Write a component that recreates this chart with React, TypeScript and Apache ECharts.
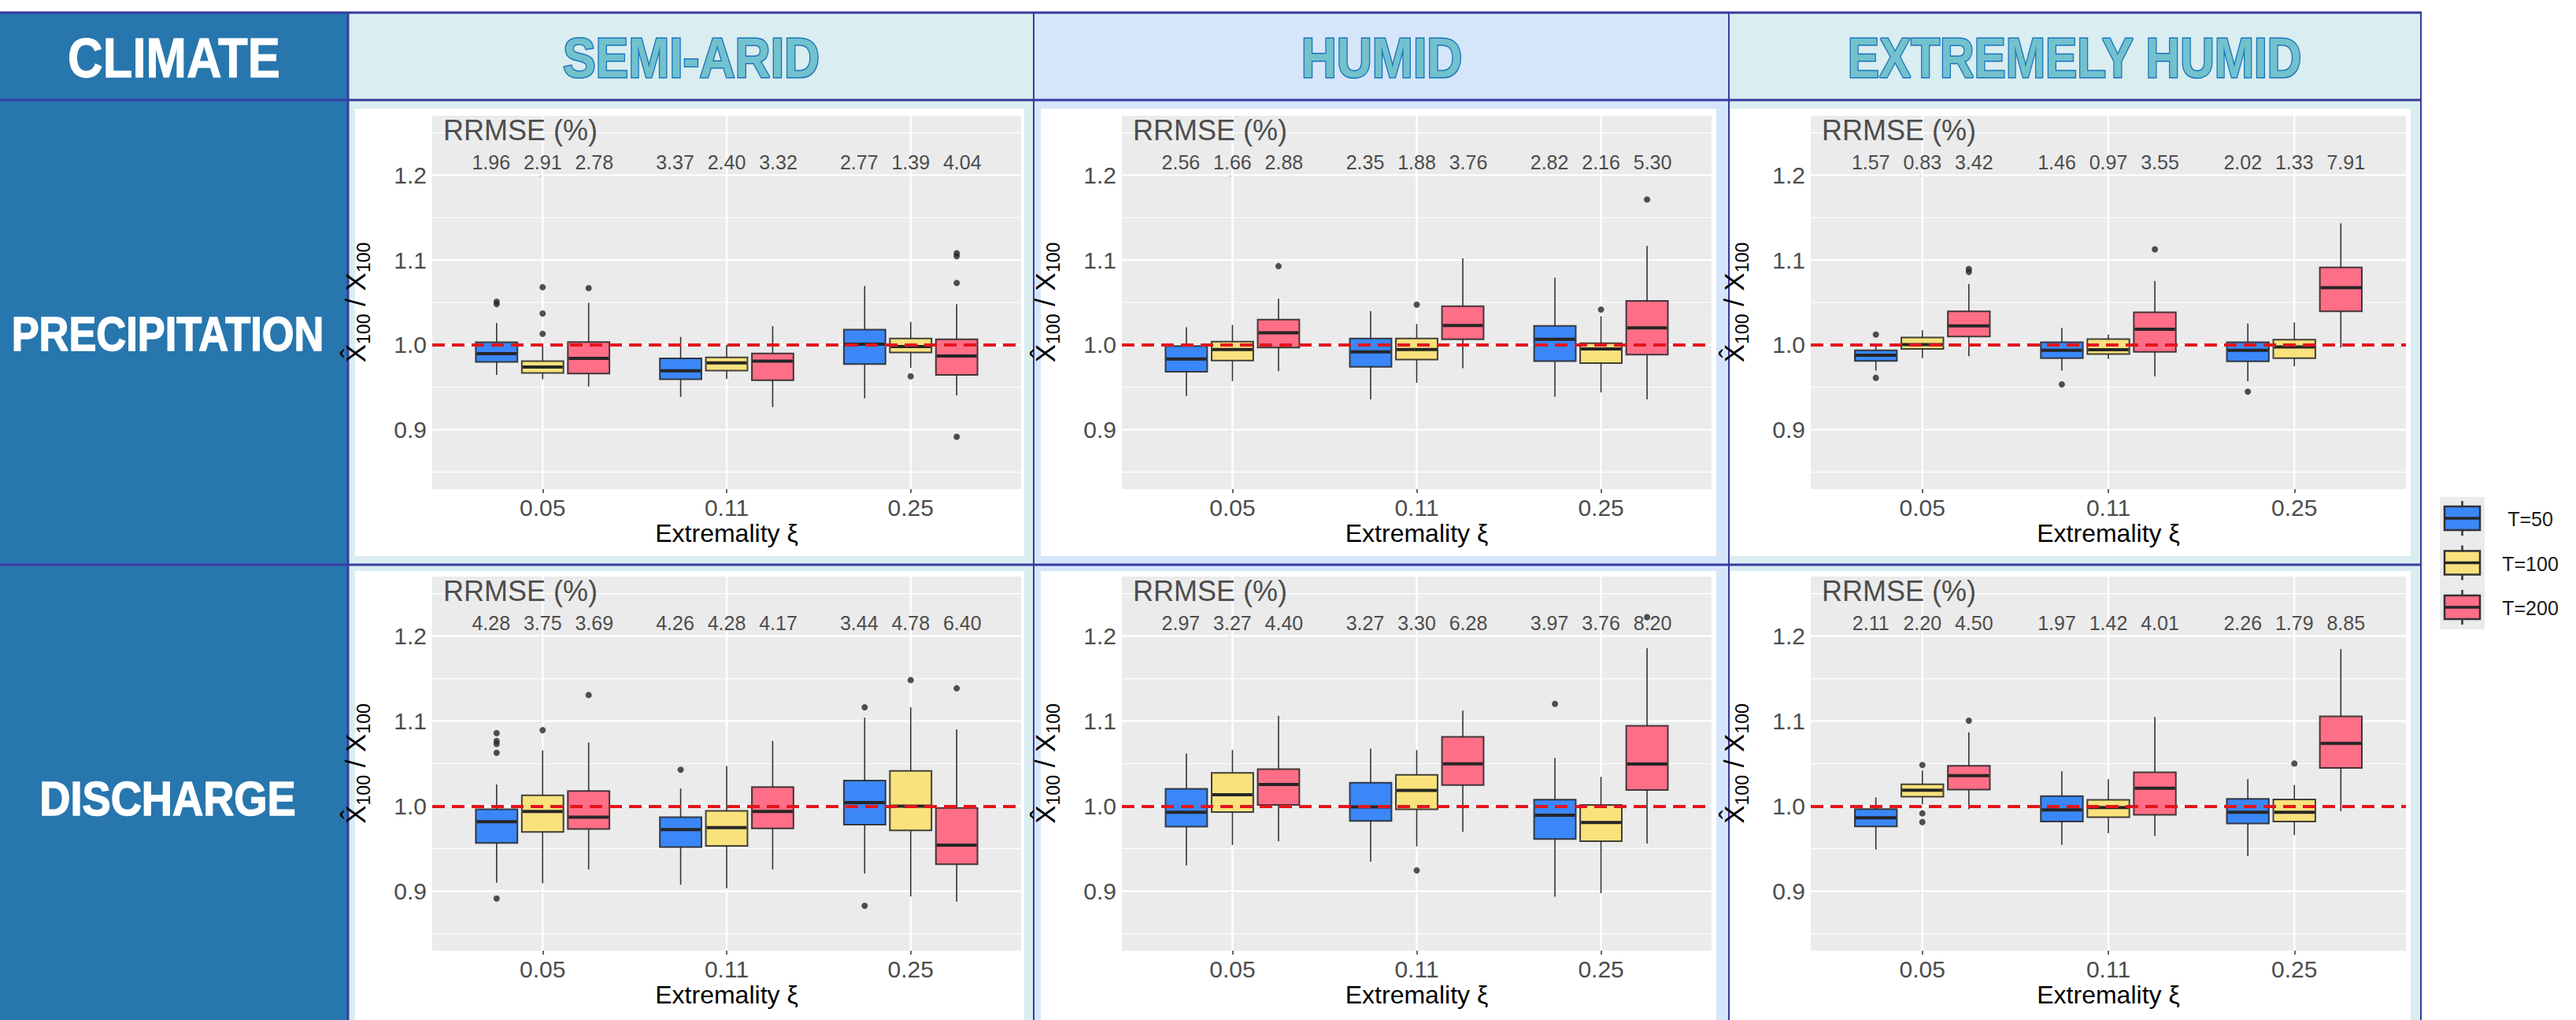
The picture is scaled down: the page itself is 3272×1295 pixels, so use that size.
import React, { useEffect, useRef } from "react";
import * as echarts from "echarts";

// ---------- DATA ----------
const CATEGORIES = ["0.05", "0.11", "0.25"];
const GROUPS = ["T=50", "T=100", "T=200"];
const CLIMATES = ["SEMI-ARID", "HUMID", "EXTREMELY HUMID"];
const VARIABLES = ["PRECIPITATION", "DISCHARGE"];
const Y_TICKS = [0.9, 1.0, 1.1, 1.2];
const Y_MINOR = [0.85, 0.95, 1.05, 1.15, 1.25];
const REFERENCE_VALUE = 1.0;

// each row: [low whisker, Q1, median, Q3, high whisker] for xi = 0.05, 0.11, 0.25
const PRECIP_SEMIARID_T50 = [[0.9646, 0.98, 0.9897, 1.0031, 1.0258], [0.9388, 0.9594, 0.9694, 0.9842, 1.0093], [0.9371, 0.9773, 1.0007, 1.0179, 1.0694]];
const PRECIP_SEMIARID_T100 = [[0.9594, 0.967, 0.9739, 0.9808, 0.999], [0.96, 0.9698, 0.9787, 0.9852, 1.0], [0.973, 0.9911, 0.998, 1.0076, 1.0271]];
const PRECIP_SEMIARID_T200 = [[0.9509, 0.9663, 0.9842, 1.0034, 1.0495], [0.9268, 0.9584, 0.9808, 0.99, 1.022], [0.9405, 0.9646, 0.9869, 1.0065, 1.0478]];
// outliers: [category index, group index, value]
const PRECIP_SEMIARID_OUT = [[0, 0, 1.051], [0, 0, 1.048], [0, 1, 1.068], [0, 1, 1.037], [0, 1, 1.013], [0, 2, 1.067], [2, 1, 0.9629], [2, 2, 1.108], [2, 2, 1.1045], [2, 2, 1.0729], [2, 2, 0.8918]];
const PRECIP_SEMIARID_RRMSE = [[1.96, 2.91, 2.78], [3.37, 2.4, 3.32], [2.77, 1.39, 4.04]];

const PRECIP_HUMID_T50 = [[0.9399, 0.9683, 0.9833, 0.9986, 1.0208], [0.9358, 0.9741, 0.9918, 1.0075, 1.0399], [0.9389, 0.9809, 1.0065, 1.0225, 1.0792]];
const PRECIP_HUMID_T100 = [[0.9573, 0.9816, 0.9945, 1.0038, 1.0235], [0.9553, 0.9826, 0.9945, 1.0075, 1.0246], [0.944, 0.9785, 0.9952, 1.002, 1.0338]];
const PRECIP_HUMID_T200 = [[0.9689, 0.9969, 1.0143, 1.0297, 1.0543], [0.9724, 1.0065, 1.0229, 1.0457, 1.102], [0.9358, 0.9884, 1.0201, 1.0519, 1.1167]];
const PRECIP_HUMID_OUT = [[0, 2, 1.0928], [1, 1, 1.0474], [2, 1, 1.0416], [2, 2, 1.1713]];
const PRECIP_HUMID_RRMSE = [[2.56, 1.66, 2.88], [2.35, 1.88, 3.76], [2.82, 2.16, 5.3]];

const PRECIP_EXTHUMID_T50 = [[0.9697, 0.981, 0.9878, 0.9935, 0.9986], [0.9697, 0.9844, 0.9935, 1.0031, 1.0201], [0.9571, 0.9806, 0.9935, 1.0031, 1.0252]];
const PRECIP_EXTHUMID_T100 = [[0.9844, 0.9952, 1.0003, 1.0088, 1.0173], [0.9833, 0.9891, 0.9942, 1.0068, 1.0122], [0.9748, 0.9844, 0.9976, 1.0061, 1.0265]];
const PRECIP_EXTHUMID_T200 = [[0.9867, 1.0099, 1.0224, 1.0395, 1.0718], [0.9629, 0.9918, 1.0184, 1.0384, 1.0752], [0.9969, 1.0395, 1.0673, 1.0912, 1.1432]];
const PRECIP_EXTHUMID_OUT = [[0, 0, 1.0122], [0, 0, 0.9612], [0, 2, 1.0895], [0, 2, 1.086], [1, 0, 0.9534], [1, 2, 1.1126], [2, 0, 0.9449]];
const PRECIP_EXTHUMID_RRMSE = [[1.57, 0.83, 3.42], [1.46, 0.97, 3.55], [2.02, 1.33, 7.91]];

const DISCH_SEMIARID_T50 = [[0.91, 0.9566, 0.9817, 0.9962, 1.0255], [0.9076, 0.9517, 0.9724, 0.9869, 1.0207], [0.9207, 0.9783, 1.0041, 1.03, 1.1041]];
const DISCH_SEMIARID_T100 = [[0.9093, 0.9697, 0.9938, 1.0128, 1.0655], [0.9034, 0.9531, 0.9748, 0.9945, 1.0472], [0.8938, 0.9714, 1.0, 1.0414, 1.1162]];
const DISCH_SEMIARID_T200 = [[0.9255, 0.9731, 0.9869, 1.0179, 1.0748], [0.9255, 0.9738, 0.9938, 1.0224, 1.0766], [0.8876, 0.9317, 0.9541, 0.9979, 1.0903]];
const DISCH_SEMIARID_OUT = [[0, 0, 1.0859], [0, 0, 1.0766], [0, 0, 1.0731], [0, 0, 1.0628], [0, 0, 0.8914], [0, 1, 1.0893], [0, 2, 1.1307], [1, 0, 1.0428], [2, 0, 1.1162], [2, 0, 0.8828], [2, 1, 1.1483], [2, 2, 1.1386]];
const DISCH_SEMIARID_RRMSE = [[4.28, 3.75, 3.69], [4.26, 4.28, 4.17], [3.44, 4.78, 6.4]];

const DISCH_HUMID_T50 = [[0.9302, 0.9759, 0.9928, 1.0203, 1.0619], [0.9347, 0.9825, 0.999, 1.0275, 1.0677], [0.8935, 0.9612, 0.9893, 1.0076, 1.0567]];
const DISCH_HUMID_T100 = [[0.9543, 0.9931, 1.0134, 1.0392, 1.066], [0.9526, 0.9962, 1.0186, 1.0368, 1.066], [0.8976, 0.9588, 0.9808, 1.0014, 1.0344]];
const DISCH_HUMID_T200 = [[0.9588, 1.0014, 1.0254, 1.0436, 1.1062], [0.9698, 1.0247, 1.0498, 1.0814, 1.1124], [0.956, 1.0189, 1.0495, 1.0945, 1.1856]];
const DISCH_HUMID_OUT = [[1, 1, 0.9244], [2, 0, 1.1203], [2, 2, 1.2223]];
const DISCH_HUMID_RRMSE = [[2.97, 3.27, 4.4], [3.27, 3.3, 6.28], [3.97, 3.76, 8.2]];

const DISCH_EXTHUMID_T50 = [[0.9489, 0.9761, 0.9864, 0.9966, 1.0102], [0.9547, 0.9819, 0.9956, 1.0119, 1.0409], [0.9411, 0.9796, 0.9928, 1.0085, 1.0317]];
const DISCH_EXTHUMID_T100 = [[1.0024, 1.0112, 1.0187, 1.0256, 1.0419], [0.9683, 0.9871, 0.9983, 1.0075, 1.0317], [0.9659, 0.9819, 0.9928, 1.0078, 1.0249]];
const DISCH_EXTHUMID_T200 = [[0.9966, 1.0194, 1.0358, 1.0474, 1.0869], [0.9649, 0.9898, 1.0211, 1.0399, 1.1049], [0.9942, 1.045, 1.0739, 1.1056, 1.1847]];
const DISCH_EXTHUMID_OUT = [[0, 1, 1.0484], [0, 1, 0.9915], [0, 1, 0.9813], [0, 2, 1.1005], [2, 1, 1.0501]];
const DISCH_EXTHUMID_RRMSE = [[2.11, 2.2, 4.5], [1.97, 1.42, 4.01], [2.26, 1.79, 8.85]];

const PANELS = [
  { row: 0, col: 0, boxes: [PRECIP_SEMIARID_T50, PRECIP_SEMIARID_T100, PRECIP_SEMIARID_T200], outliers: PRECIP_SEMIARID_OUT, rrmse: PRECIP_SEMIARID_RRMSE },
  { row: 0, col: 1, boxes: [PRECIP_HUMID_T50, PRECIP_HUMID_T100, PRECIP_HUMID_T200], outliers: PRECIP_HUMID_OUT, rrmse: PRECIP_HUMID_RRMSE },
  { row: 0, col: 2, boxes: [PRECIP_EXTHUMID_T50, PRECIP_EXTHUMID_T100, PRECIP_EXTHUMID_T200], outliers: PRECIP_EXTHUMID_OUT, rrmse: PRECIP_EXTHUMID_RRMSE },
  { row: 1, col: 0, boxes: [DISCH_SEMIARID_T50, DISCH_SEMIARID_T100, DISCH_SEMIARID_T200], outliers: DISCH_SEMIARID_OUT, rrmse: DISCH_SEMIARID_RRMSE },
  { row: 1, col: 1, boxes: [DISCH_HUMID_T50, DISCH_HUMID_T100, DISCH_HUMID_T200], outliers: DISCH_HUMID_OUT, rrmse: DISCH_HUMID_RRMSE },
  { row: 1, col: 2, boxes: [DISCH_EXTHUMID_T50, DISCH_EXTHUMID_T100, DISCH_EXTHUMID_T200], outliers: DISCH_EXTHUMID_OUT, rrmse: DISCH_EXTHUMID_RRMSE },
];

// ---------- STYLE / LAYOUT ----------
const FONT = "Liberation Sans, Arial, Helvetica, sans-serif";
const BOX_COLORS = ["#3B87F8", "#F9E27C", "#FE6E87"];
const BOX_STROKE = "rgba(35,35,35,0.85)";
const DODGE = [-0.25, 0, 0.25];
const BOX_WIDTH = 0.226;
const RRMSE_Y = 1.215;
const RRMSE_TITLE_Y = 1.2526;
const RRMSE_SPACING = 65.5;
const Y_MIN = 0.83;
const Y_MAX = 1.27;

const GRID_X = [[549, 1297], [1425, 2174], [2300, 3056]];
const GRID_Y = [[147, 621], [732, 1207]];
const COL_X = [442, 1313, 2196, 3075];
const COL_BG = ["#DAEDF0", "#D6E6FA", "#DAEDF0"];
const WHITE_X = [[451, 1301], [1322, 2180], [2198, 3062]];
const WHITE_Y = [[138, 706], [725, 1295]];
const HEADER_Y = [16, 127];
const ROW_DIVIDER_Y = 717;
const LINE_COLOR = "#3A3AA0";
const LEFT_BLUE = "#2776AE";

function boxRenderer(color: string) {
  return (params: any, api: any) => {
    const x = api.value(0);
    const lo = api.coord([x, api.value(1)]);
    const q1 = api.coord([x, api.value(2)]);
    const md = api.coord([x, api.value(3)]);
    const q3 = api.coord([x, api.value(4)]);
    const hi = api.coord([x, api.value(5)]);
    const w = api.size([BOX_WIDTH, 0])[0];
    const cx = lo[0];
    const whisker = { stroke: "#333333", lineWidth: 1.6 };
    return {
      type: "group",
      children: [
        { type: "line", shape: { x1: cx, y1: hi[1], x2: cx, y2: q3[1] }, style: whisker },
        { type: "line", shape: { x1: cx, y1: q1[1], x2: cx, y2: lo[1] }, style: whisker },
        {
          type: "rect",
          shape: { x: cx - w / 2, y: q3[1], width: w, height: q1[1] - q3[1] },
          style: { fill: color, stroke: BOX_STROKE, lineWidth: 2 },
        },
        { type: "line", shape: { x1: cx - w / 2 + 1, y1: md[1], x2: cx + w / 2 - 1, y2: md[1] }, style: { stroke: "#262626", lineWidth: 4 } },
      ],
    };
  };
}

function buildOption() {
  const grid: any[] = [];
  const xAxis: any[] = [];
  const yAxis: any[] = [];
  const series: any[] = [];

  PANELS.forEach((p, g) => {
    const [x0, x1] = GRID_X[p.col];
    const [y0, y1] = GRID_Y[p.row];
    grid.push({ left: x0, top: y0, width: x1 - x0, height: y1 - y0, show: true, backgroundColor: "#EBEBEB", borderWidth: 0 });
    xAxis.push({
      gridIndex: g,
      type: "value",
      min: -0.6,
      max: 2.6,
      axisLine: { show: false },
      splitLine: { show: false },
      axisTick: { show: true, customValues: [0, 1, 2], length: 5, lineStyle: { color: "#333333", width: 1.5 } },
      axisLabel: {
        customValues: [0, 1, 2],
        formatter: (v: number) => CATEGORIES[Math.round(v)],
        fontSize: 30,
        color: "#4D4D4D",
        margin: 8,
        fontFamily: FONT,
      },
      name: "Extremality ξ",
      nameLocation: "middle",
      nameGap: 40,
      nameTextStyle: { fontSize: 32, color: "#000000", fontFamily: FONT },
    });
    yAxis.push({
      gridIndex: g,
      type: "value",
      min: Y_MIN,
      max: Y_MAX,
      axisLine: { show: false },
      splitLine: { show: false },
      axisTick: { show: true, customValues: Y_TICKS, length: 4, lineStyle: { color: "#333333", width: 1.5 } },
      axisLabel: {
        customValues: Y_TICKS,
        formatter: (v: number) => v.toFixed(1),
        fontSize: 30,
        color: "#4D4D4D",
        margin: 7,
        fontFamily: FONT,
      },
      name: "{a|X\u0302}{s|100}{a| / X}{s|100}",
      nameLocation: "middle",
      nameRotate: 90,
      nameGap: 76,
      nameTextStyle: {
        fontFamily: FONT,
        rich: {
          a: { fontSize: 35, color: "#000000", lineHeight: 44, fontFamily: FONT },
          s: { fontSize: 23, color: "#000000", lineHeight: 20, verticalAlign: "bottom", fontFamily: FONT },
        },
      },
    });

    // panel background grid lines + RRMSE title
    series.push({
      type: "custom",
      xAxisIndex: g,
      yAxisIndex: g,
      z: 1,
      silent: true,
      data: [[0, 1]],
      encode: { x: 0, y: 1 },
      renderItem: (params: any, api: any) => {
        const cs = params.coordSys;
        const children: any[] = [];
        Y_MINOR.forEach((v) => {
          const y = api.coord([0, v])[1];
          children.push({ type: "line", shape: { x1: cs.x, y1: y, x2: cs.x + cs.width, y2: y }, style: { stroke: "#FFFFFF", lineWidth: 1.2 } });
        });
        Y_TICKS.forEach((v) => {
          const y = api.coord([0, v])[1];
          children.push({ type: "line", shape: { x1: cs.x, y1: y, x2: cs.x + cs.width, y2: y }, style: { stroke: "#FFFFFF", lineWidth: 2.4 } });
        });
        CATEGORIES.forEach((_c, i) => {
          const x = api.coord([i, 1])[0];
          children.push({ type: "line", shape: { x1: x, y1: cs.y, x2: x, y2: cs.y + cs.height }, style: { stroke: "#FFFFFF", lineWidth: 2.4 } });
        });
        const ty = api.coord([0, RRMSE_TITLE_Y])[1];
        children.push({
          type: "text",
          x: cs.x + 14,
          y: ty,
          style: { text: "RRMSE (%)", fontSize: 36, fill: "#4D4D4D", align: "left", verticalAlign: "middle", fontFamily: FONT },
        });
        return { type: "group", children };
      },
    });

    // boxes
    p.boxes.forEach((stats, k) => {
      series.push({
        type: "custom",
        name: GROUPS[k],
        xAxisIndex: g,
        yAxisIndex: g,
        z: 2,
        silent: true,
        data: stats.map((s, i) => [i + DODGE[k], s[0], s[1], s[2], s[3], s[4]]),
        encode: { x: 0, y: [1, 2, 3, 4, 5] },
        renderItem: boxRenderer(BOX_COLORS[k]),
      });
    });

    // outliers + reference line
    series.push({
      type: "scatter",
      xAxisIndex: g,
      yAxisIndex: g,
      z: 3,
      silent: true,
      symbol: "circle",
      symbolSize: 8,
      itemStyle: { color: "#262626" },
      data: p.outliers.map(([c, k, v]) => [c + DODGE[k], v]),
      markLine: {
        silent: true,
        symbol: "none",
        animation: false,
        label: { show: false },
        lineStyle: { color: "#E5141C", width: 4, type: [16, 9] },
        data: [{ yAxis: REFERENCE_VALUE }],
      },
    });

    // RRMSE values
    series.push({
      type: "custom",
      xAxisIndex: g,
      yAxisIndex: g,
      z: 5,
      silent: true,
      data: p.rrmse.flatMap((vals, i) => vals.map((v, k) => [i, RRMSE_Y, v, k])),
      encode: { x: 0, y: 1 },
      renderItem: (_params: any, api: any) => {
        const pt = api.coord([api.value(0), api.value(1)]);
        const k = api.value(3);
        return {
          type: "text",
          x: pt[0] + (k - 1) * RRMSE_SPACING,
          y: pt[1],
          style: { text: Number(api.value(2)).toFixed(2), fontSize: 25, fill: "#4D4D4D", align: "center", verticalAlign: "middle", fontFamily: FONT },
        };
      },
    });
  });

  // ---------- table layout graphics ----------
  const elements: any[] = [];
  const bottom = 1295;
  elements.push({ type: "rect", z: -10, shape: { x: 0, y: HEADER_Y[0], width: COL_X[0], height: bottom - HEADER_Y[0] }, style: { fill: LEFT_BLUE } });
  for (let c = 0; c < 3; c++) {
    elements.push({ type: "rect", z: -10, shape: { x: COL_X[c], y: HEADER_Y[0], width: COL_X[c + 1] - COL_X[c], height: bottom - HEADER_Y[0] }, style: { fill: COL_BG[c] } });
    for (let r = 0; r < 2; r++) {
      elements.push({
        type: "rect",
        z: -9,
        shape: { x: WHITE_X[c][0], y: WHITE_Y[r][0], width: WHITE_X[c][1] - WHITE_X[c][0], height: WHITE_Y[r][1] - WHITE_Y[r][0] },
        style: { fill: "#FFFFFF" },
      });
    }
  }
  [HEADER_Y[0], HEADER_Y[1], ROW_DIVIDER_Y].forEach((y) => {
    elements.push({ type: "line", z: -8, shape: { x1: 0, y1: y, x2: COL_X[3] + 1, y2: y }, style: { stroke: LINE_COLOR, lineWidth: 3 } });
  });
  COL_X.forEach((x, i) => {
    elements.push({ type: "line", z: -8, shape: { x1: x, y1: HEADER_Y[0], x2: x, y2: bottom }, style: { stroke: LINE_COLOR, lineWidth: i === 0 ? 3 : 2 } });
  });

  const headerFill = "#72C1CD";
  const headerStroke = "#1874BE";
  const headerCenters = [878, 1755, 2635];
  const headerScale = [0.88, 0.88, 0.85];
  elements.push({
    type: "text",
    z: 10,
    x: 221,
    y: 73,
    scaleX: 0.87,
    style: {
      text: "CLIMATE",
      fontSize: 71,
      fontWeight: "bold",
      fontFamily: FONT,
      fill: "#FFFFFF",
      stroke: "#FFFFFF",
      lineWidth: 1,
      align: "center",
      verticalAlign: "middle",
      shadowColor: "rgba(0,0,0,0.45)",
      shadowBlur: 4,
      shadowOffsetX: 2,
      shadowOffsetY: 3,
    },
  });
  CLIMATES.forEach((t, i) => {
    elements.push({
      type: "text",
      z: 10,
      x: headerCenters[i],
      y: 73,
      scaleX: headerScale[i],
      style: {
        text: t,
        fontSize: 71,
        fontWeight: "bold",
        fontFamily: FONT,
        fill: headerFill,
        stroke: headerStroke,
        lineWidth: 3,
        align: "center",
        verticalAlign: "middle",
        shadowColor: "rgba(0,0,0,0.3)",
        shadowBlur: 4,
        shadowOffsetX: 2,
        shadowOffsetY: 4,
      },
    });
  });
  const rowCenters = [423, 1013];
  const rowScale = [0.845, 0.875];
  VARIABLES.forEach((t, i) => {
    elements.push({
      type: "text",
      z: 10,
      x: 213,
      y: rowCenters[i],
      scaleX: rowScale[i],
      style: {
        text: t,
        fontSize: 62,
        fontWeight: "bold",
        fontFamily: FONT,
        fill: "#FFFFFF",
        stroke: "#FFFFFF",
        lineWidth: 1.5,
        align: "center",
        verticalAlign: "middle",
        shadowColor: "rgba(0,0,0,0.45)",
        shadowBlur: 4,
        shadowOffsetX: 2,
        shadowOffsetY: 3,
      },
    });
  });

  // legend
  const LEG_X = 3099;
  const LEG_Y = 631;
  elements.push({ type: "rect", z: 5, shape: { x: LEG_X, y: LEG_Y, width: 57, height: 168 }, style: { fill: "#EBEBEB" } });
  GROUPS.forEach((t, k) => {
    const cy = 658 + k * 56.5;
    const cx = LEG_X + 28.5;
    elements.push({ type: "line", z: 6, shape: { x1: cx, y1: cy - 22, x2: cx, y2: cy + 22 }, style: { stroke: "#333333", lineWidth: 2.5 } });
    elements.push({ type: "rect", z: 6, shape: { x: LEG_X + 6, y: cy - 15, width: 45, height: 30 }, style: { fill: BOX_COLORS[k], stroke: "#333333", lineWidth: 2.5 } });
    elements.push({ type: "line", z: 6, shape: { x1: LEG_X + 6, y1: cy, x2: LEG_X + 51, y2: cy }, style: { stroke: "#262626", lineWidth: 3.5 } });
    elements.push({
      type: "text",
      z: 6,
      x: 3214,
      y: cy + 1,
      style: { text: t, fontSize: 25, fill: "#1A1A1A", align: "center", verticalAlign: "middle", fontFamily: FONT },
    });
  });

  return {
    animation: false,
    backgroundColor: "#FFFFFF",
    textStyle: { fontFamily: FONT },
    grid,
    xAxis,
    yAxis,
    series,
    graphic: { elements },
  };
}

export default function App() {
  const ref = useRef<HTMLDivElement>(null);
  useEffect(() => {
    document.body.style.margin = "0";
    const chart = echarts.init(ref.current as HTMLDivElement, null, { renderer: "svg" });
    chart.setOption(buildOption() as any);
    return () => chart.dispose();
  }, []);
  return <div ref={ref} style={{ position: "absolute", left: 0, top: 0, width: 3272, height: 1295 }} />;
}
